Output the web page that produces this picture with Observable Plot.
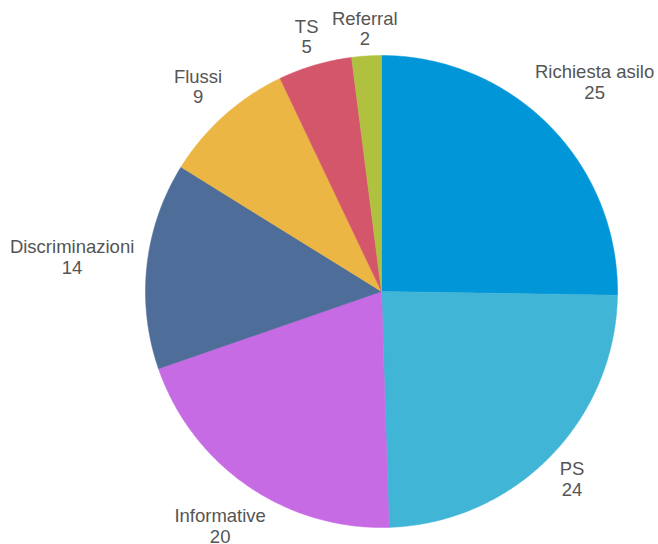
<!DOCTYPE html>
<html>
<head>
<meta charset="utf-8">
<script src="https://cdn.jsdelivr.net/npm/d3@7"></script>
<script src="https://cdn.jsdelivr.net/npm/@observablehq/plot@0.6"></script>
<style>
  html, body { margin: 0; padding: 0; background: #fff; }
</style>
</head>
<body>
<div id="chart"></div>
<script>
const categories = ["Richiesta asilo", "PS", "Informative", "Discriminazioni", "Flussi", "TS", "Referral"];
const values = [25, 24, 20, 14, 9, 5, 2];
const colors = ["#0096d8", "#40b5d6", "#c76be5", "#4e6d98", "#ebb643", "#d4566b", "#b0c13f"];

const W = 658, H = 544;
const cx = 381, cy = 291, R = 236, labelR = 248;
const fontSize = 18.5;
const lineH = 20.5;
const halfH = 15;
const fontFamily = "'Liberation Sans', Arial, sans-serif";

const total = d3.sum(values);
const ctx = document.createElement("canvas").getContext("2d");
ctx.font = `${fontSize}px ${fontFamily}`;

// distance along ray so that the label box's nearest point is at labelR
function pushOut(s, co, hw, hh) {
  let lo = 0, hi = 1000;
  for (let k = 0; k < 60; k++) {
    const t = (lo + hi) / 2;
    const dx = Math.max(0, Math.abs(t * s) - hw);
    const dy = Math.max(0, Math.abs(t * co) - hh);
    if (Math.hypot(dx, dy) < labelR) lo = t; else hi = t;
  }
  return (lo + hi) / 2;
}

const pts = [];
const labels = [];
let acc = 0;
categories.forEach((c, i) => {
  const a0 = acc / total * 2 * Math.PI;
  acc += values[i];
  const a1 = acc / total * 2 * Math.PI;
  pts.push({cat: c, x: cx, y: cy});
  const n = Math.max(2, Math.ceil((a1 - a0) / (Math.PI / 360)));
  for (let k = 0; k <= n; k++) {
    const a = a0 + (a1 - a0) * k / n;
    pts.push({cat: c, x: cx + R * Math.sin(a), y: cy - R * Math.cos(a)});
  }
  pts.push({cat: c, x: cx, y: cy});
  const am = (a0 + a1) / 2;
  const w = Math.max(ctx.measureText(c).width, ctx.measureText(String(values[i])).width);
  const s = Math.sin(am), co = Math.cos(am);
  const t = pushOut(s, co, w / 2, halfH);
  labels.push({text: `${c}\n${values[i]}`, x: cx + t * s, y: cy - t * co});
});

const chart = Plot.plot({
  width: W,
  height: H,
  margin: 0,
  x: {domain: [0, W], range: [0, W], axis: null},
  y: {domain: [0, H], range: [0, H], axis: null},
  color: {domain: categories, range: colors},
  style: {background: "#fff"},
  marks: [
    Plot.line(pts, {x: "x", y: "y", z: "cat", fill: "cat", stroke: "cat", strokeWidth: 0.5}),
    Plot.text(labels, {
      x: "x", y: "y", text: "text",
      textAnchor: "middle", lineAnchor: "middle",
      lineHeight: lineH / fontSize,
      fontSize, fontFamily, fill: "#555"
    })
  ]
});
document.getElementById("chart").appendChild(chart);
</script>
</body>
</html>
